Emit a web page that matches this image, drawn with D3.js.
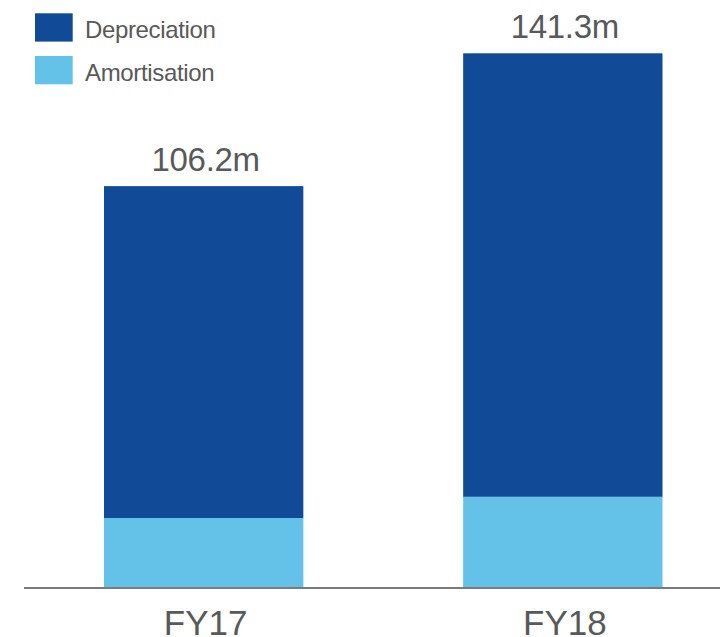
<!DOCTYPE html>
<html>
<head>
<meta charset="utf-8">
<script src="https://cdn.jsdelivr.net/npm/d3@7"></script>
<style>
  html, body { margin: 0; padding: 0; background: #fff; }
  svg { display: block; font-family: "Liberation Sans", Arial, sans-serif; }
</style>
</head>
<body>
<svg id="chart" width="720" height="637"></svg>
<script>
// Depreciation and amortisation by financial year (A$m)
const categories = ["FY17", "FY18"];
const seriesNames = ["Amortisation", "Depreciation"];
const amortisation = [18.5, 24.1];
const depreciation = [87.7, 117.2];
const totals = [106.2, 141.3];
const totalLabels = ["106.2m", "141.3m"];
const legendItems = ["Depreciation", "Amortisation"];

const colors = { Depreciation: "#114a96", Amortisation: "#64c2e9" };
const textColor = "#595959";

const svg = d3.select("#chart");

const baseY = 588;
const x = d3.scaleBand()
  .domain(categories)
  .range([104, 662.5])
  .paddingInner(0.445)
  .paddingOuter(0);

const y = d3.scaleLinear()
  .domain([0, d3.max(totals)])
  .range([baseY, 53.3]);

const rows = categories.map((c, i) => ({
  cat: c,
  Amortisation: amortisation[i],
  Depreciation: depreciation[i]
}));

const stacked = d3.stack().keys(seriesNames)(rows);

svg.append("g")
  .selectAll("g")
  .data(stacked)
  .join("g")
  .attr("fill", d => colors[d.key])
  .selectAll("rect")
  .data(d => d)
  .join("rect")
  .attr("x", d => x(d.data.cat))
  .attr("width", x.bandwidth())
  .attr("y", d => y(d[1]))
  .attr("height", d => y(d[0]) - y(d[1]));

// Total labels above each stack
svg.append("g")
  .selectAll("text")
  .data(categories)
  .join("text")
  .attr("x", d => x(d) + x.bandwidth() / 2 + 2)
  .attr("y", (d, i) => y(totals[i]) - 15)
  .attr("text-anchor", "middle")
  .attr("fill", textColor)
  .attr("font-size", 33)
  .attr("letter-spacing", "-0.3px")
  .text((d, i) => totalLabels[i]);

// Category axis
const xAxis = svg.append("g")
  .attr("transform", `translate(0,${baseY})`)
  .call(d3.axisBottom(x).tickSize(0).tickPadding(22));
xAxis.select(".domain").remove();
xAxis.selectAll("text")
  .attr("fill", textColor)
  .attr("font-size", 35)
  .attr("font-family", "Liberation Sans, Arial, sans-serif")
  .attr("dy", "0.71em")
  .attr("dx", 2);

svg.append("line")
  .attr("x1", 24).attr("x2", 720)
  .attr("y1", baseY).attr("y2", baseY)
  .attr("stroke", "#7a7a7a")
  .attr("stroke-width", 2);

// Legend
const legend = svg.append("g")
  .selectAll("g")
  .data(legendItems)
  .join("g")
  .attr("transform", (d, i) => `translate(35,${13.3 + i * 42.7})`);

legend.append("rect")
  .attr("width", 37.7)
  .attr("height", 28.3)
  .attr("fill", d => colors[d]);

legend.append("text")
  .attr("x", 50)
  .attr("y", 25)
  .attr("fill", textColor)
  .attr("font-size", 24)
  .attr("letter-spacing", "-0.35px")
  .text(d => d);
</script>
</body>
</html>
